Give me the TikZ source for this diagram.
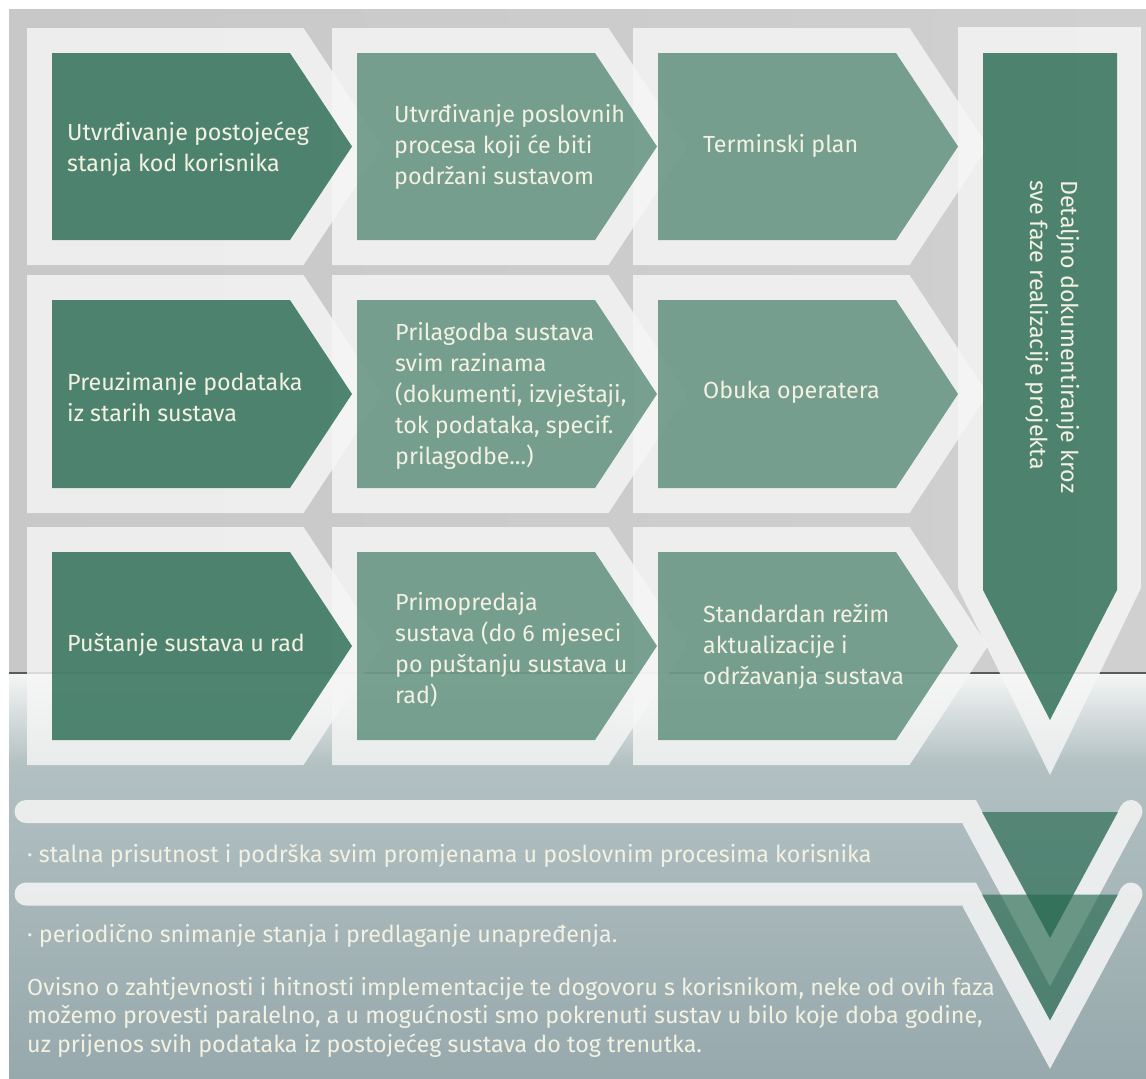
\documentclass[tikz,border=0pt]{standalone}
\usepackage{fontspec}
\setmainfont{Fira Sans}
\definecolor{grn}{HTML}{25694F}
\definecolor{wht}{HTML}{F6F6F6}
\definecolor{txt}{HTML}{F3F1E2}
\definecolor{concrete}{HTML}{C8C8C8}
\definecolor{concreteR}{HTML}{D0D0D0}
\definecolor{lowtop}{HTML}{F4F5F5}
\definecolor{lowmid}{HTML}{B2C0C2}
\definecolor{lowbot}{HTML}{97A9AD}
\definecolor{horizon}{HTML}{5A5A5A}
\tikzset{
  outerw/.style={fill=wht, fill opacity=0.82},
  gdark/.style={fill=grn, fill opacity=0.8},
  glight/.style={fill=grn, fill opacity=0.6},
  gtri/.style={fill=grn, fill opacity=0.65},
  band/.style={draw=wht, draw opacity=0.85, line width=23pt, line cap=round, line join=miter},
  lbl/.style={text=txt, font=\fontsize{23.3}{31}\selectfont, align=left, anchor=west, inner sep=0pt},
  lblb/.style={text=txt, font=\fontsize{23.3}{28.5}\selectfont, align=left, anchor=west, inner sep=0pt}
}
% white outer chevron: left L, top T, bottom B of the green inner shape
\newcommand{\whitechev}[3]{\fill[outerw] ({#1-25},{#2-25}) -- ({#1+251.5},{#2-25}) -- ({#1+330},{(#2+#3)/2}) -- ({#1+251.5},{#3+25}) -- ({#1-25},{#3+25}) -- cycle;}
\newcommand{\greenchev}[4]{\fill[#4] (#1,#2) -- ({#1+238},#2) -- ({#1+300},{(#2+#3)/2}) -- ({#1+238},#3) -- (#1,#3) -- cycle;}
\begin{document}
\begin{tikzpicture}[x=1pt,y=-1pt]
\useasboundingbox (0,0) rectangle (1146,1079);
% background
\shade[left color=concrete, right color=concreteR] (9,9) rectangle (1146,674);
\shade[top color=lowtop, bottom color=lowmid] (9,674) rectangle (1146,765);
\shade[top color=lowmid, bottom color=lowbot] (9,765) rectangle (1146,1079);
\draw[horizon, line width=2pt] (9,673) -- (1146,673);

% white outer chevrons
\whitechev{52}{53}{240}
\whitechev{357}{53}{240}
\whitechev{658}{53}{240}
\whitechev{52}{300}{488}
\whitechev{357}{300}{488}
\whitechev{658}{300}{488}
\whitechev{52}{552}{740}
\whitechev{357}{552}{740}
\whitechev{658}{552}{740}
% column 4 white
\fill[outerw] (958,27) -- (1141,27) -- (1141,588) -- (1050,775) -- (958,588) -- cycle;

% green chevrons
\greenchev{52}{53}{240}{gdark}
\greenchev{357}{53}{240}{glight}
\greenchev{658}{53}{240}{glight}
\greenchev{52}{300}{488}{gdark}
\greenchev{357}{300}{488}{glight}
\greenchev{658}{300}{488}{glight}
\greenchev{52}{552}{740}{gdark}
\greenchev{357}{552}{740}{glight}
\greenchev{658}{552}{740}{glight}
% column 4 green arrow
\fill[gdark] (983,53) -- (1117,53) -- (1117,590) -- (1050,720) -- (983,590) -- cycle;

% bottom bands and triangles
\draw[band] (26,811.5) -- (969,811.5) -- (1050,962) -- (1131,811.5);
\fill[gtri] (982,812) -- (1118,812) -- (1050,938) -- cycle;
\draw[band] (26,894) -- (969,894) -- (1050,1044.5) -- (1131,894);
\fill[gtri] (982,894.5) -- (1118,894.5) -- (1050,1020.5) -- cycle;

% texts
\node[lbl] (t11) at (67,149) {Utvrđivanje postojećeg\\stanja kod korisnika};
\node[lbl] (t12) at (394,147) {Utvrđivanje poslovnih\\procesa koji će biti\\podržani sustavom};
\node[lbl] (t13) at (703,146) {Terminski plan};
\node[lbl] (t21) at (67,397) {Preuzimanje podataka\\iz starih sustava};
\node[lbl] (t22) at (395,396) {Prilagodba sustava\\svim razinama\\(dokumenti, izvještaji,\\tok podataka, specif.\\prilagodbe...)};
\node[lbl] (t23) at (703,392) {Obuka operatera};
\node[lbl] (t31) at (67,645) {Puštanje sustava u rad};
\node[lbl] (t32) at (395,650) {Primopredaja\\sustava (do 6 mjeseci\\po puštanju sustava u\\rad)};
\node[lbl] (t33) at (703,647) {Standardan režim\\aktualizacije i\\održavanja sustava};
\node[lbl, rotate=-90] (t4) at (1053,180) {Detaljno dokumentiranje kroz\\sve faze realizacije projekta};

\node[lblb] (b1) at (27,856) {· stalna prisutnost i podrška svim promjenama u poslovnim procesima korisnika};
\node[lblb] (b2) at (27,936) {· periodično snimanje stanja i predlaganje unapređenja.};
\node[lblb] (b3) at (27,1017) {Ovisno o zahtjevnosti i hitnosti implementacije te dogovoru s korisnikom, neke od ovih faza\\možemo provesti paralelno, a u mogućnosti smo pokrenuti sustav u bilo koje doba godine,\\uz prijenos svih podataka iz postojećeg sustava do tog trenutka.};
\end{tikzpicture}
\end{document}
